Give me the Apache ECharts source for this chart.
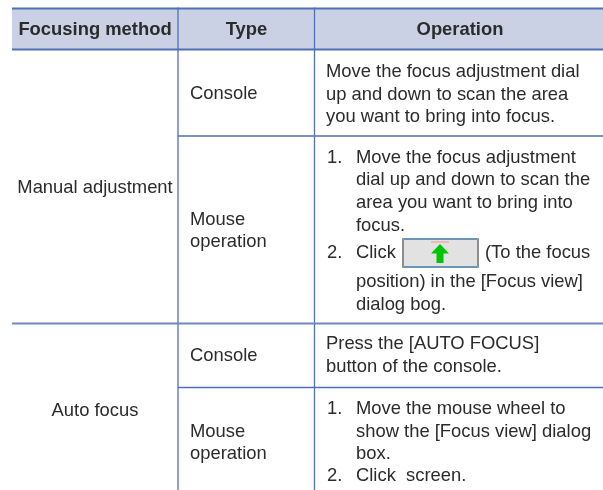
<!DOCTYPE html>
<html>
<head>
<meta charset="utf-8">
<style>
  html, body { margin: 0; padding: 0; background: #fff; }
  #main { width: 603px; height: 490px; }
</style>
</head>
<body>
<div id="main"></div>
<script src="https://cdn.jsdelivr.net/npm/echarts@6/dist/echarts.min.js"></script>
<script>
// table text
const headers = ['Focusing method', 'Type', 'Operation'];
const methods = ['Manual adjustment', 'Auto focus'];
const types = ['Console', 'Mouse', 'operation', 'Console', 'Mouse', 'operation'];
const consoleText = ['Move the focus adjustment dial', 'up and down to scan the area', 'you want to bring into focus.'];
const mouseText = ['Move the focus adjustment', 'dial up and down to scan the', 'area you want to bring into', 'focus.'];
const clickText = ['Click', '(To the focus', 'position) in the [Focus view]', 'dialog bog.'];
const pressText = ['Press the [AUTO FOCUS]', 'button of the console.'];
const wheelText = ['Move the mouse wheel to', 'show the [Focus view] dialog', 'box.'];
const clickText2 = ['Click  screen.'];
const listNumbers = ['1.', '2.'];

// 版面位置
const left = 12, right = 603, col1 = 178, col2 = 314.5;
const textColor = '#2b2b2b';
const lineColor = '#4f70b4';
const fontSize = 18.4;
const textShift = 0.2;

const items = [];
const label = (text, x, y, opt = {}) => items.push({
  type: 'text',
  z: 5,
  style: {
    text, x,
    y: y + textShift,
    fill: textColor,
    font: `${opt.bold ? 'bold ' : ''}${fontSize}px "Liberation Sans", Arial, sans-serif`,
    textAlign: opt.align || 'left',
    textVerticalAlign: 'middle',
  },
});
const hline = (x1, x2, y, w = 1.5, color = lineColor) => items.push({
  type: 'line', z: 3, shape: { x1, y1: y, x2, y2: y }, style: { stroke: color, lineWidth: w },
});
const vline = (x, y1, y2, w = 1.3) => items.push({
  type: 'line', z: 3, shape: { x1: x, y1, x2: x, y2 }, style: { stroke: lineColor, lineWidth: w },
});

// header
items.push({ type: 'rect', z: 1, shape: { x: left, y: 8, width: right - left, height: 41 }, style: { fill: '#cbd1e5' } });
hline(left, right, 8.5, 2);
hline(left, right, 49.5, 2.2);
vline(col1, 7.5, 490);
vline(col2, 7.5, 490);
hline(col1, right, 136);
hline(left, right, 323.5, 1.8, '#7089bd');
hline(col1, right, 387.5);

label(headers[0], 95, 30, { bold: true, align: 'center' });
label(headers[1], 246.5, 30, { bold: true, align: 'center' });
label(headers[2], 460, 30, { bold: true, align: 'center' });

label(methods[0], 95, 187.5, { align: 'center' });
label(methods[1], 95, 411, { align: 'center' });

label(types[0], 190, 94);
label(types[1], 190, 220);
label(types[2], 190, 242);
label(types[3], 190, 356);
label(types[4], 190, 432);
label(types[5], 190, 454);

[72, 94.5, 117].forEach((y, i) => label(consoleText[i], 326, y));

label(listNumbers[0], 327, 158);
[158, 180, 203, 226].forEach((y, i) => label(mouseText[i], 356, y));
label(listNumbers[1], 327, 253);
label(clickText[0], 356, 253);
label(clickText[1], 485, 253);
label(clickText[2], 356, 282);
label(clickText[3], 356, 305);

[344, 367].forEach((y, i) => label(pressText[i], 326, y));

label(listNumbers[0], 327, 409);
[409, 432, 454].forEach((y, i) => label(wheelText[i], 356, y));
label(listNumbers[1], 327, 476);
label(clickText2[0], 356, 476);

// button with the arrow icon
items.push({ type: 'rect', z: 4, shape: { x: 402.5, y: 238.5, width: 76, height: 29 }, style: { fill: '#e2e2e2', stroke: '#8c8c8c', lineWidth: 1 } });
items.push({ type: 'rect', z: 4, shape: { x: 403.5, y: 239.5, width: 74, height: 27 }, style: { fill: 'transparent', stroke: '#4a9fe2', lineWidth: 1 } });
items.push({ type: 'line', z: 5, shape: { x1: 431, y1: 242, x2: 449, y2: 242 }, style: { stroke: '#f0a095', lineWidth: 1.2 } });
items.push({
  type: 'polygon', z: 5,
  shape: { points: [[440, 244], [449, 253.5], [443.5, 253.5], [443.5, 263], [436.5, 263], [436.5, 253.5], [431, 253.5]] },
  style: { fill: '#00c400' },
});

const myChart = echarts.init(document.getElementById('main'));
myChart.setOption({
  animation: false,
  backgroundColor: '#fff',
  graphic: { elements: items },
});
</script>
</body>
</html>
